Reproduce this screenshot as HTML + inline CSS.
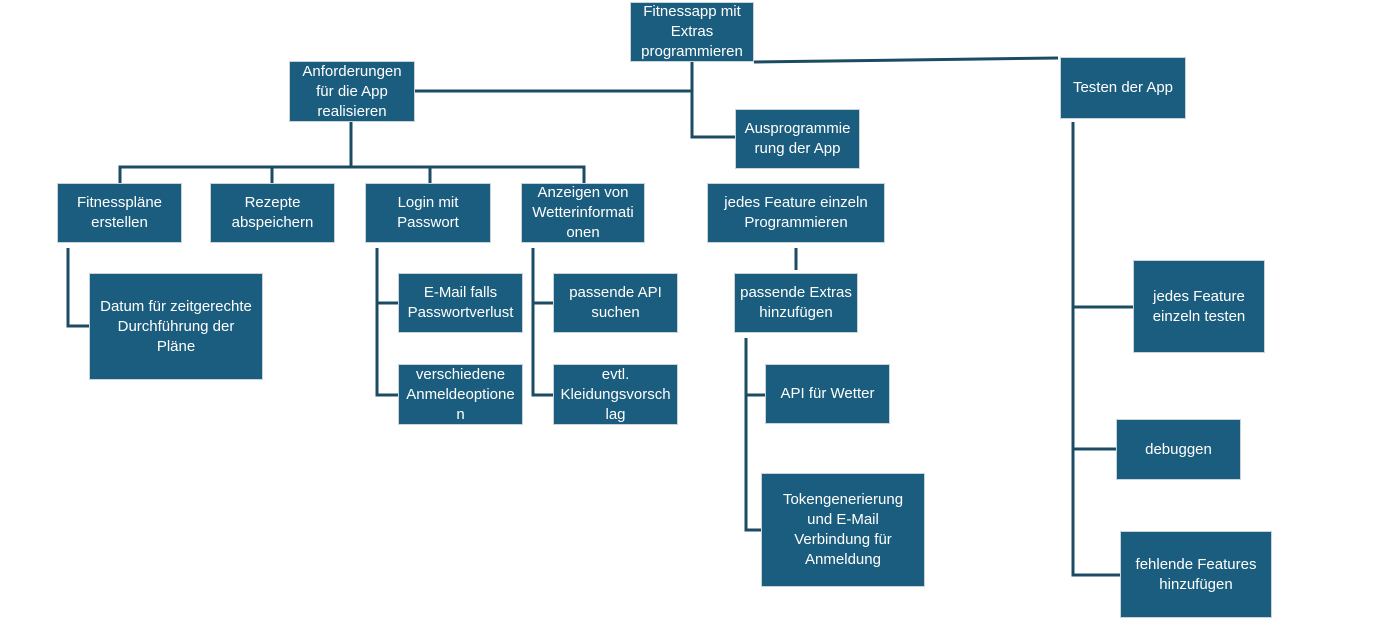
<!DOCTYPE html>
<html><head><meta charset="utf-8"><style>
body{margin:0;width:1386px;height:634px;background:#fff;position:relative;overflow:hidden;font-family:"Liberation Sans",sans-serif}
.b{position:absolute;background:#1b5d7e;border:1px solid #c9d3d8;box-sizing:border-box;color:#fff;font-size:15px;line-height:20px;display:flex;align-items:center;justify-content:center;text-align:center;padding:0 2px}
svg{position:absolute;left:0;top:0}
</style></head><body>
<svg width="1386" height="634"><g stroke="#1c4c63" stroke-width="3" fill="none">
<path d="M754 62 L1058 58"/>
<path d="M692 62 V137 H735"/>
<path d="M415 91 H692"/>
<path d="M351 122 V167 M120 183 V167 H584 V183 M272 167 V183 M430 167 V183"/>
<path d="M68 248 V326 H89"/>
<path d="M377 248 V395 H398 M377 303 H398"/>
<path d="M533 248 V395 H553 M533 303 H553"/>
<path d="M796 248 V270"/>
<path d="M746 338 V530 H761 M746 395 H765"/>
<path d="M1073 122 V575 H1120 M1073 307 H1133 M1073 449 H1116"/>
</g></svg>
<div class="b" style="left:630px;top:2px;width:124px;height:60px">Fitnessapp mit Extras programmieren</div>
<div class="b" style="left:289px;top:61px;width:126px;height:61px">Anforderungen für die App realisieren</div>
<div class="b" style="left:735px;top:109px;width:125px;height:60px">Ausprogrammie rung der App</div>
<div class="b" style="left:1060px;top:57px;width:126px;height:62px">Testen der App</div>
<div class="b" style="left:57px;top:183px;width:125px;height:60px">Fitnesspläne erstellen</div>
<div class="b" style="left:210px;top:183px;width:125px;height:60px">Rezepte abspeichern</div>
<div class="b" style="left:365px;top:183px;width:126px;height:60px">Login mit Passwort</div>
<div class="b" style="left:521px;top:183px;width:124px;height:60px">Anzeigen von Wetterinformati onen</div>
<div class="b" style="left:707px;top:183px;width:178px;height:60px">jedes Feature einzeln Programmieren</div>
<div class="b" style="left:734px;top:273px;width:124px;height:60px">passende Extras hinzufügen</div>
<div class="b" style="left:89px;top:273px;width:174px;height:107px;padding:0 10px">Datum für zeitgerechte Durchführung der Pläne</div>
<div class="b" style="left:398px;top:273px;width:125px;height:60px">E-Mail falls Passwortverlust</div>
<div class="b" style="left:398px;top:364px;width:125px;height:61px">verschiedene Anmeldeoptione n</div>
<div class="b" style="left:553px;top:273px;width:125px;height:60px">passende API suchen</div>
<div class="b" style="left:553px;top:364px;width:125px;height:61px">evtl. Kleidungsvorsch lag</div>
<div class="b" style="left:765px;top:364px;width:125px;height:60px">API für Wetter</div>
<div class="b" style="left:761px;top:473px;width:164px;height:114px;padding:0 14px">Tokengenerierung und E-Mail Verbindung für Anmeldung</div>
<div class="b" style="left:1133px;top:260px;width:132px;height:93px;padding:0 14px">jedes Feature einzeln testen</div>
<div class="b" style="left:1116px;top:419px;width:125px;height:61px">debuggen</div>
<div class="b" style="left:1120px;top:531px;width:152px;height:87px">fehlende Features hinzufügen</div>
</body></html>
